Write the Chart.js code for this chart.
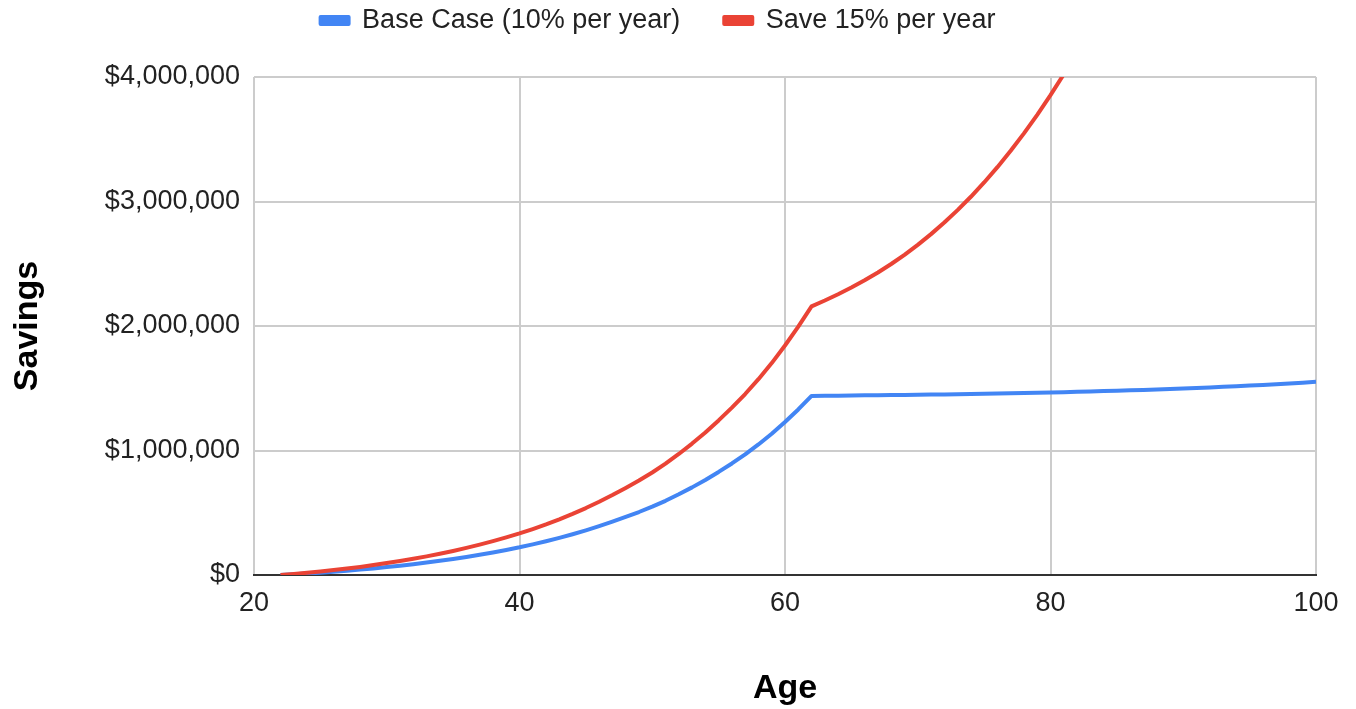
<!DOCTYPE html>
<html>
<head>
<meta charset="utf-8">
<title>Savings by Age</title>
<script src="https://cdn.jsdelivr.net/npm/chart.js"></script>
<style>
  html, body { margin: 0; padding: 0; background: #ffffff; }
  #wrap { width: 1356px; height: 709px; }
</style>
</head>
<body>
<div id="wrap"><canvas id="chart" width="1356" height="709"></canvas></div>
<script>
// --- Data ---
const ages = [
  22, 23, 24, 25, 26, 27, 28, 29, 30, 31, 32, 33, 34, 35, 36, 37, 38, 39, 40,
  41, 42, 43, 44, 45, 46, 47, 48, 49, 50, 51, 52, 53, 54, 55, 56, 57, 58, 59, 60,
  61, 62, 63, 64, 65, 66, 67, 68, 69, 70, 71, 72, 73, 74, 75, 76, 77, 78, 79, 80,
  81, 82, 83, 84, 85, 86, 87, 88, 89, 90, 91, 92, 93, 94, 95, 96, 97, 98, 99, 100
];

const baseCase = [
  0, 5600, 11800, 18600, 26200, 34400, 43300, 53100, 63700, 74700, 86700, 99700,
  113700, 128900, 145100, 162600, 181400, 201500, 222500,
  246000, 271200, 298300, 327300, 358500, 392000, 428000, 466400, 506000, 549000,
  596000, 648000, 703800, 763200, 827800, 896000, 969000, 1048500, 1134700, 1228800,
  1329900, 1438600, 1439600, 1440600, 1441700, 1442800, 1444000, 1445200, 1446500, 1447900,
  1449300, 1450800, 1452400, 1454100, 1455900, 1457800, 1459800, 1461900, 1464100, 1466400,
  1468800, 1471400, 1474100, 1477000, 1480000, 1483200, 1486600, 1490200, 1494000, 1498000,
  1502200, 1506600, 1511200, 1516100, 1521300, 1526800, 1532600, 1538700, 1545100, 1551800
];

const save15 = [
  0, 8400, 17700, 27900, 39300, 51600, 65000, 79700, 95600, 112100, 130100, 149600,
  170600, 193400, 217700, 243900, 272100, 302300, 333800,
  369000, 406800, 447500, 491000, 537800, 588000, 642000, 699600, 759000, 823500,
  894000, 972000, 1055700, 1144800, 1241700, 1344000, 1453500, 1572800, 1702100, 1843200,
  1994900, 2157900, 2205000, 2255000, 2309000, 2367000, 2430000, 2498000, 2572000, 2652000,
  2738000, 2831000, 2931000, 3038000, 3153000, 3276000, 3407000, 3547000, 3696000, 3854000,
  4022000, 4200000, 4389000, 4589000, 4800000, 5022000, 5256000, 5502000, 5760000, 6030000,
  6313000, 6609000, 6918000, 7241000, 7578000, 7930000, 8297000, 8680000, 9079000, 9495000
];

const seriesNames = ['Base Case (10% per year)', 'Save 15% per year'];
const seriesColors = ['#4285f4', '#ea4335'];
const xTicks = [20, 40, 60, 80, 100];
const yTicks = [0, 1000000, 2000000, 3000000, 4000000];

const FONT = '"Liberation Sans", Arial, sans-serif';

function toPoints(values) {
  return ages.map((a, i) => ({ x: a, y: values[i] }));
}

// legend box is taller than its content so the plot starts where the reference does
const legendFix = {
  id: 'legendFix',
  beforeLayout(chart) {
    const lg = chart.legend;
    if (lg && !lg._fixed) {
      const fit = lg.fit.bind(lg);
      lg.fit = function () { fit(); this.height = 114; };
      lg._fixed = true;
    }
  }
};

new Chart(document.getElementById('chart'), {
  type: 'line',
  data: {
    datasets: [
      {
        label: seriesNames[0],
        data: toPoints(baseCase),
        borderColor: seriesColors[0],
        backgroundColor: seriesColors[0],
        borderWidth: 4,
        pointRadius: 0,
        borderJoinStyle: 'round',
        order: 1
      },
      {
        label: seriesNames[1],
        data: toPoints(save15),
        borderColor: seriesColors[1],
        backgroundColor: seriesColors[1],
        borderWidth: 4,
        pointRadius: 0,
        borderJoinStyle: 'round',
        order: 0
      }
    ]
  },
  options: {
    responsive: false,
    devicePixelRatio: 1,
    animation: false,
    layout: { padding: { top: -37, right: 40, bottom: 0, left: 0 } },
    plugins: {
      legend: {
        position: 'top',
        align: 'center',
        labels: {
          boxWidth: 28,
          boxHeight: 7,
          padding: 44,
          color: '#222222',
          font: { family: FONT, size: 27 },
          sort: (a, b) => a.datasetIndex - b.datasetIndex
        }
      },
      tooltip: { enabled: false }
    },
    scales: {
      x: {
        type: 'linear',
        min: 20,
        max: 100,
        afterBuildTicks: (s) => { s.ticks = xTicks.map(v => ({ value: v })); },
        afterFit: (s) => { s.height = 134; },
        ticks: {
          color: '#222222',
          padding: 12,
          font: { family: FONT, size: 27 }
        },
        grid: { color: '#cccccc', lineWidth: 2, drawTicks: false },
        border: { display: true, color: '#333333', width: 2 },
        title: {
          display: true,
          text: 'Age',
          color: '#000000',
          padding: { top: 0, bottom: 0 },
          font: { family: FONT, size: 34, weight: 'bold' }
        }
      },
      y: {
        min: 0,
        max: 4000000,
        afterBuildTicks: (s) => { s.ticks = yTicks.map(v => ({ value: v })); },
        afterFit: (s) => { s.width = 254; },
        ticks: {
          color: '#222222',
          padding: 14,
          font: { family: FONT, size: 27 },
          callback: (v) => '$' + Number(v).toLocaleString('en-US')
        },
        grid: {
          color: (c) => (c.tick && c.tick.value === 0 ? '#333333' : '#cccccc'),
          lineWidth: 2,
          drawTicks: false
        },
        border: { display: false },
        title: {
          display: true,
          text: 'Savings',
          color: '#000000',
          padding: { top: 7, bottom: 0 },
          font: { family: FONT, size: 34, weight: 'bold' }
        }
      }
    }
  },
  plugins: [legendFix]
});
</script>
</body>
</html>
